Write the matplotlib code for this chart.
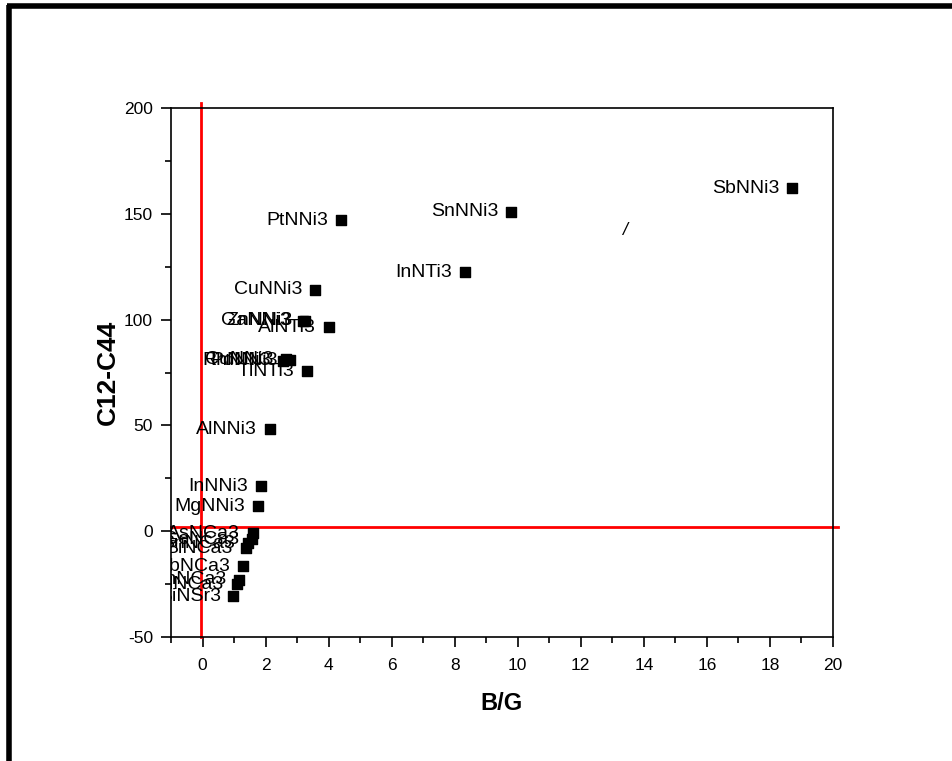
import matplotlib.pyplot as plt
from matplotlib.lines import Line2D
from matplotlib.transforms import offset_copy

plt.rcParams['font.family'] = ['Liberation Sans', 'DejaVu Sans']
plt.rcParams['axes.unicode_minus'] = False

# compound labels and their (B/G, C12-C44) values
names = [
    'SbNNi3', 'SnNNi3', 'InNTi3', 'PtNNi3', 'CuNNi3',
    'ZnNNi3', 'GaNNi3', 'AlNTi3', 'PdNNi3', 'CuNNi3', 'RhNNi3', 'TlNTi3',
    'AlNNi3', 'InNNi3', 'MgNNi3',
    'AsNCa3', 'GeNCa3', 'SnNCa3', 'BiNCa3', 'PbNCa3',
    'InNCa3', 'TlNCa3', 'BiNSr3',
]
bg = [
    18.7, 9.78, 8.32, 4.38, 3.56,
    3.24, 3.18, 4.0, 2.78, 2.65, 2.55, 3.3,
    2.13, 1.84, 1.75,
    1.59, 1.56, 1.43, 1.37, 1.27,
    1.17, 1.08, 0.98,
]
c12_c44 = [
    162, 151, 122.4, 147, 114,
    99.5, 99.5, 96.4, 80.8, 81.2, 80.5, 75.6,
    48.2, 21.3, 11.8,
    -0.9, -3.8, -5.7, -8, -16.5,
    -23, -25, -30.7,
]

fig = plt.figure(figsize=(9.52, 7.61), dpi=100)
ax = fig.add_axes([171 / 952, 1 - 637 / 761, (833 - 171) / 952, (637 - 108) / 761])

ax.scatter(bg, c12_c44, marker='s', s=50, color='black', zorder=3)
label_tr = offset_copy(ax.transData, fig=fig, x=-9, y=0, units='points')
for name, x, y in zip(names, bg, c12_c44):
    ax.text(x, y, name, transform=label_tr, ha='right', va='center',
            fontsize=14, clip_on=True)

# stray mark in the original figure
ax.text(13.4, 142, '/', fontsize=13, style='italic', ha='center', va='center')

# red reference lines
ax.axhline(2, xmin=0, xmax=1.008, color='red', lw=2, clip_on=False, zorder=2)
ax.axvline(-0.05, ymin=0, ymax=1.009, color='red', lw=2, clip_on=False, zorder=2)

ax.set_xlim(-1, 20)
ax.set_ylim(-50, 200)
ax.set_xticks(range(0, 21, 2))
ax.set_xticks(range(-1, 21, 1), minor=True)
ax.set_yticks(range(-50, 201, 50))
ax.set_yticks(range(-50, 201, 25), minor=True)
ax.tick_params(which='major', direction='out', length=7, width=1.2, labelsize=12.5)
ax.tick_params(which='minor', direction='out', length=4, width=1.2)
ax.tick_params(axis='x', which='major', pad=8)
ax.tick_params(axis='y', which='major', pad=6)
for s in ax.spines.values():
    s.set_linewidth(1.2)

ax.set_xlabel('B/G', fontsize=17, fontweight='bold', labelpad=14)
ax.set_ylabel('C12-C44', fontsize=19, fontweight='bold', labelpad=3)

# black frame around the figure (left and top edges only)
fig.add_artist(Line2D([8.5 / 952, 8.5 / 952], [0, 1 - 5 / 761], color='black', lw=4,
                      transform=fig.transFigure, solid_capstyle='butt'))
fig.add_artist(Line2D([6.5 / 952, 1], [1 - 6 / 761, 1 - 6 / 761], color='black', lw=4,
                      transform=fig.transFigure, solid_capstyle='butt'))

fig.savefig('out.png', dpi=100)
